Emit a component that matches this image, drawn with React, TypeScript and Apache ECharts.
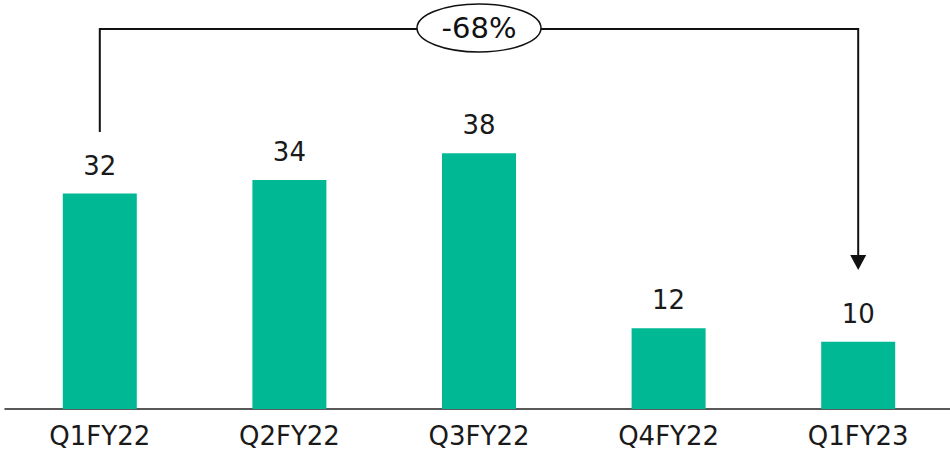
import React, { useEffect, useRef } from "react";
import * as echarts from "echarts";

const categories = ["Q1FY22", "Q2FY22", "Q3FY22", "Q4FY22", "Q1FY23"];
const values = [32, 34, 38, 12, 10];
const changeLabel = "-68%";

const FONT = "DejaVu Sans";
const BAR_COLOR = "#00B894";

export default function App() {
  const ref = useRef<HTMLDivElement>(null);
  useEffect(() => {
    if (!ref.current) return;
    const chart = echarts.init(ref.current, undefined, { renderer: "svg" });
    chart.setOption({
      animation: false,
      grid: {
        left: 5,
        top: 5,
        width: 948,
        height: 404,
        containLabel: false,
        outerBoundsMode: "none",
      },
      xAxis: {
        type: "category",
        data: categories,
        axisLine: { show: true, lineStyle: { color: "#222", width: 1.5 } },
        axisTick: { show: false },
        axisLabel: { fontFamily: FONT, fontSize: 26, color: "#1a1a1a", margin: 14 },
      },
      yAxis: { type: "value", min: 0, max: 60, show: false, splitLine: { show: false } },
      series: [
        {
          type: "bar",
          data: values,
          barWidth: 74,
          itemStyle: { color: BAR_COLOR },
          label: {
            show: true,
            position: "top",
            distance: 15,
            fontFamily: FONT,
            fontSize: 26,
            color: "#1a1a1a",
          },
        },
      ],
    });
    const x0 = chart.convertToPixel({ xAxisIndex: 0 }, 0) as number;
    const x1 = chart.convertToPixel({ xAxisIndex: 0 }, categories.length - 1) as number;
    const yTop = 29;
    const xm = (x0 + x1) / 2;
    chart.setOption({
      graphic: [
        {
          type: "polyline",
          shape: { points: [[x0, 132], [x0, yTop], [x1, yTop], [x1, 258]] },
          style: { stroke: "#111", lineWidth: 2, fill: null },
          z: 10,
        },
        {
          type: "polygon",
          shape: { points: [[x1 - 8, 255], [x1 + 8, 255], [x1, 270]] },
          style: { fill: "#111" },
          z: 10,
        },
        {
          type: "ellipse",
          shape: { cx: xm, cy: 28, rx: 62, ry: 24 },
          style: { fill: "#fff", stroke: "#111", lineWidth: 1.5 },
          z: 11,
        },
        {
          type: "text",
          x: xm,
          y: 28,
          style: {
            text: changeLabel,
            fontFamily: FONT,
            fontSize: 29,
            fill: "#111",
            align: "center",
            verticalAlign: "middle",
          },
          z: 12,
        },
      ],
    });
    return () => chart.dispose();
  }, []);
  return (
    <div
      ref={ref}
      style={{ position: "fixed", left: 0, top: 0, width: 950, height: 452, background: "#fff" }}
    />
  );
}
